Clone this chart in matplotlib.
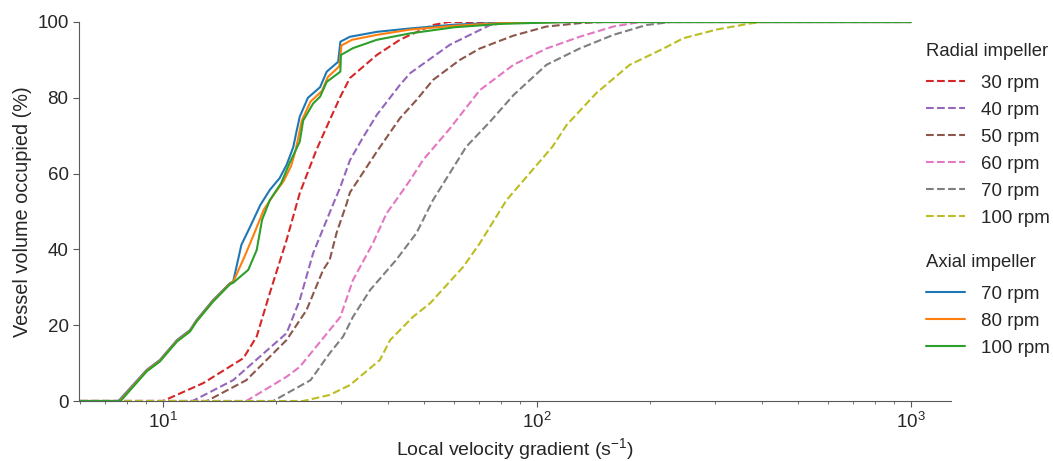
import numpy as np
import matplotlib
matplotlib.use("Agg")
import matplotlib.pyplot as plt
import seaborn as sns

# radial impeller (dashed)
radial_labels = ["30 rpm", "40 rpm", "50 rpm", "60 rpm", "70 rpm", "100 rpm"]
radial_colors = ["tab:red", "tab:purple", "tab:brown", "tab:pink", "tab:gray", "tab:olive"]

r30_x = [6, 10.0, 12.8, 16.4, 17.8, 19.3, 21.4, 23.2, 25.7, 27.9, 29.8, 31.6, 37.3, 43, 45.8, 52.7, 58, 1000]
r30_y = [0, 0, 4.7, 11.3, 17, 28.5, 42.5, 54.8, 66.2, 74.1, 80.3, 85.2, 91.3, 95.3, 96.6, 99.2, 100, 100]

r40_x = [6, 12.0, 15.4, 21.4, 23.2, 25.2, 27.4, 28.8, 29.8, 31.6, 34, 37.3, 43, 45.8, 58.5, 74.9, 85, 1000]
r40_y = [0, 0, 5.5, 17.9, 26.6, 39, 47.8, 53, 56.5, 63.5, 69, 75.5, 83.4, 86.5, 94, 99.2, 100, 100]

r50_x = [6, 13.1, 16.7, 21.4, 24.2, 26.8, 27.9, 29.1, 31.0, 31.6, 37.3, 43, 47.6, 52.7, 62.2, 70.3, 86.5, 106, 130, 150, 1000]
r50_y = [0, 0, 5.5, 16.1, 24, 34.6, 37.2, 44.3, 52.2, 55, 65.8, 74.6, 79.4, 84.7, 90, 93, 96.4, 98.8, 99.7, 100, 100]

r60_x = [6, 16.7, 21.4, 23.2, 27.9, 29.8, 32.2, 36.4, 39.6, 42, 45.8, 49.6, 58.5, 70.3, 86.5, 106, 130, 160, 189, 1000]
r60_y = [0, 0, 6.4, 9, 18.7, 22.2, 31.9, 41.6, 49.5, 53, 58.3, 63.6, 71.9, 82, 88.7, 93, 96.1, 98.8, 100, 100]

r70_x = [6, 19.7, 24.8, 27.9, 30.3, 32.2, 35.8, 42, 47.6, 52.7, 64.7, 74.9, 86.5, 106, 130, 160, 196, 228, 1000]
r70_y = [0, 0, 5.5, 12.6, 17, 22.2, 29.3, 37.2, 44.3, 53, 67.1, 73.7, 80.7, 88.7, 93, 96.6, 99.2, 100, 100]

r100_x = [6, 23.7, 27.9, 31.6, 38, 40.5, 46.6, 51.8, 63.5, 70.3, 82.9, 110, 120, 144, 177, 218, 246, 302, 371, 400, 1000]
r100_y = [0, 0, 1.6, 4.2, 10.8, 16.1, 22.2, 25.8, 35.4, 41.6, 53, 67.1, 72.8, 81.2, 88.7, 93, 95.7, 98, 99.6, 100, 100]

# axial impeller (solid)
axial_labels = ["70 rpm", "80 rpm", "100 rpm"]
axial_colors = ["tab:blue", "tab:orange", "tab:green"]

a70_x = [6, 7.6, 9.04, 9.8, 10.9, 11.8, 12.3, 13.6, 15.1, 15.4, 16.2, 17.1, 18.2, 19.3, 20.5, 21.4, 22.3, 22.7,
         23.2, 24.4, 26.3, 27.4, 29.4, 29.8, 31.6, 37.3, 45.8, 60, 80, 120, 1000]
a70_y = [0, 0, 8.2, 10.8, 16.1, 18.7, 21.4, 26.6, 31.1, 31.5, 41.2, 46, 51.7, 55.7, 58.8, 62.3, 67, 70.7,
         75, 80, 82.8, 86.9, 89.5, 94.8, 96.1, 97.4, 98.3, 99.3, 99.8, 100, 100]

a80_x = [6, 7.65, 9.04, 9.8, 10.9, 11.8, 12.3, 13.6, 15.1, 15.4, 16.5, 17.5, 18.6, 19.8, 21, 22, 22.6, 23.0,
         23.5, 24.8, 26.6, 27.6, 29.6, 30.0, 32, 37.3, 45.8, 60, 80, 120, 1000]
a80_y = [0, 0, 8.0, 10.6, 15.9, 18.5, 21.2, 26.4, 31.0, 31.4, 38, 44, 50.5, 54.5, 58, 62, 66, 69.5,
         74, 79, 81.8, 85.5, 88.3, 93.8, 95.3, 96.6, 98, 99, 99.7, 100, 100]

a100_x = [6, 7.7, 9.04, 9.8, 10.9, 11.8, 12.3, 13.6, 15.1, 15.4, 16.9, 17.8, 18.4, 19.3, 20.7, 21.8, 23.2, 23.7,
          25.2, 26.3, 27.4, 29.8, 29.9, 32.2, 37.3, 45.8, 60, 80, 120, 1000]
a100_y = [0, 0, 7.8, 10.4, 15.7, 18.3, 21, 26.2, 30.8, 31.2, 34.6, 39.8, 47.8, 53, 57.5, 62.8, 68.4, 74,
          78.5, 80.3, 84.2, 86.9, 91.3, 93.1, 95.3, 97, 98.6, 99.5, 100, 100]

radial = [(r30_x, r30_y), (r40_x, r40_y), (r50_x, r50_y), (r60_x, r60_y), (r70_x, r70_y), (r100_x, r100_y)]
axial = [(a70_x, a70_y), (a80_x, a80_y), (a100_x, a100_y)]

sns.set_style("ticks")
plt.rcParams["font.family"] = ["Liberation Sans", "DejaVu Sans"]
plt.rcParams["mathtext.fontset"] = "custom"
plt.rcParams["mathtext.rm"] = "Liberation Sans"
plt.rcParams["mathtext.it"] = "Liberation Sans:italic"
plt.rcParams["axes.edgecolor"] = "0.35"
plt.rcParams["xtick.color"] = "0.35"
plt.rcParams["ytick.color"] = "0.35"
plt.rcParams["xtick.labelcolor"] = "0.15"
plt.rcParams["ytick.labelcolor"] = "0.15"

fig = plt.figure(figsize=(10.53, 4.61), dpi=100)
ax = fig.add_axes([79 / 1053, 1 - 401 / 461, (951 - 79) / 1053, (401 - 22) / 461])

hr = []
for (x, y), c, lab in zip(radial, radial_colors, radial_labels):
    h, = ax.plot(x, y, "--", color=c, lw=1.5, label=lab)
    hr.append(h)
ha = []
for (x, y), c, lab in zip(axial, axial_colors, axial_labels):
    h, = ax.plot(x, y, "-", color=c, lw=1.5, label=lab)
    ha.append(h)

ax.set_xscale("log")
ax.set_xlim(5.96, 1280)
ax.set_ylim(0, 100)
ax.set_yticks([0, 20, 40, 60, 80, 100])
ax.tick_params(labelsize=13.5, length=4)
ax.tick_params(which="minor", length=2.5)
ax.set_xlabel("Local velocity gradient (s$^{-1}$)", fontsize=14, color="0.15", labelpad=3)
ax.set_ylabel("Vessel volume occupied (%)", fontsize=14.3, color="0.15", labelpad=4)
sns.despine(ax=ax)

leg_kw = dict(frameon=False, fontsize=13.5, title_fontsize=13.3, handlelength=2.1, handletextpad=0.85,
              labelspacing=0.53, borderpad=0, borderaxespad=0, alignment="left", loc="upper left",
              bbox_transform=fig.transFigure)
leg1 = fig.legend(handles=hr, title="Radial impeller", bbox_to_anchor=(926 / 1053, 1 - 43 / 461), **leg_kw)
leg2 = fig.legend(handles=ha, title="Axial impeller", bbox_to_anchor=(926 / 1053, 1 - 254 / 461), **leg_kw)
# a bit more room between legend title and the entries
for leg in (leg1, leg2):
    leg._legend_box.sep = 10.5

fig.savefig("out.png", dpi=100)
